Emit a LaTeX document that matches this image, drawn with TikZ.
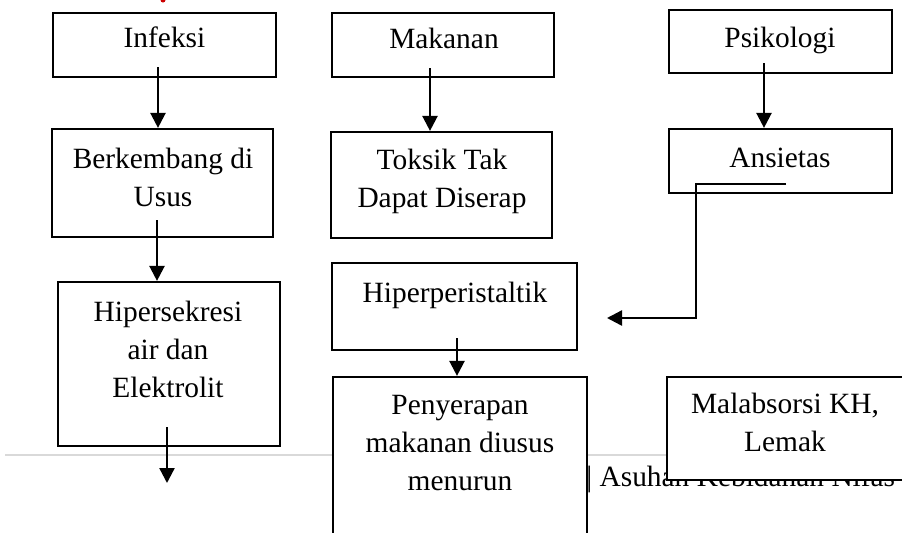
\documentclass[tikz,border=0pt]{standalone}
\usepackage{fontspec}
\setmainfont{Liberation Serif}
\usetikzlibrary{arrows.meta,calc}
\begin{document}
\begin{tikzpicture}[x=0.5pt,y=-0.5pt,
  box/.style={draw, fill=white, line width=1.1pt, inner sep=0pt},
  lbl/.style={font=\fontsize{14.7pt}{19pt}\selectfont, align=center, anchor=base, inner sep=0pt},
  arr/.style={line width=1.2pt, -{Triangle[length=7.5pt,width=7.5pt]}}]
\useasboundingbox (0,0) rectangle (902,532);
\clip (0,0) rectangle (902,532);
\fill[white] (0,0) rectangle (902,532);
% red fragment of cut-off heading
\fill[red!80!black] (163,0) circle (2.5);
% footer rule and text
\draw[gray!30, line width=0.8pt] (5,455) -- (900,455);
\node[lbl, anchor=base west] (footer) at (586,486) {| Asuhan Kebidanan Nifas};
% boxes
\node[box, minimum width=111.5pt, minimum height=32pt] (inf) at (164.5,45) {};
\node[box, minimum width=111pt, minimum height=32pt] (mak) at (443,45) {};
\node[box, minimum width=111.5pt, minimum height=31.5pt] (psi) at (780.5,41.5) {};
\node[box, minimum width=110.5pt, minimum height=54pt] (ber) at (162.5,183) {};
\node[box, minimum width=110.5pt, minimum height=53pt] (tok) at (441.5,185) {};
\node[box, minimum width=111.5pt, minimum height=32pt] (ans) at (780.5,161) {};
\node[box, minimum width=111pt, minimum height=82pt] (hsk) at (169,364) {};
\node[box, minimum width=122.5pt, minimum height=43.5pt] (hpp) at (454.5,306.5) {};
\node[box, minimum width=127pt, minimum height=84pt] (pen) at (460,461) {};
\node[box, minimum width=122.5pt, minimum height=51.5pt] (mal) at (789.5,428.5) {};
% labels (base anchor = baseline of last line)
\node[lbl] (tinf) at (164.5,47) {Infeksi};
\node[lbl] (tmak) at (444,48) {Makanan};
\node[lbl] (tpsi) at (780,47) {Psikologi};
\node[lbl] (tber) at (163,206) {Berkembang di\\Usus};
\node[lbl] (ttok) at (442,207) {Toksik Tak\\Dapat Diserap};
\node[lbl] (tans) at (780,167) {Ansietas};
\node[lbl] (thsk) at (168,397) {Hipersekresi\\air dan\\Elektrolit};
\node[lbl] (thpp) at (455,302) {Hiperperistaltik};
\node[lbl] (tpen) at (460,490) {Penyerapan\\makanan diusus\\menurun};
\node[lbl] (tmal) at (785,451) {Malabsorsi KH,\\Lemak};
% connectors
\draw[arr] ($(inf.south)+(-6.5,-11)$) -- ($(ber.north)+(-4.5,0)$);
\draw[arr] ($(mak.south)+(-13,-10)$) -- ($(tok.north)+(-11.5,0)$);
\draw[arr] ($(psi.south)+(-16.5,-11)$) -- ($(ans.north)+(-16.5,0)$);
\draw[arr] ($(ber.south)+(-5.5,-18)$) -- ($(hsk.north)+(-12,0)$);
\coordinate (hskend) at (167,483);
\draw[arr] ($(hsk.south)+(-2,-20)$) -- (hskend);
\coordinate (ansend) at (607,318);
\coordinate (ansbend) at (696,318);
\draw[arr] ($(ans.south)+(5.5,-10)$) -| (ansbend) -- (ansend);
\draw[arr] ($(hpp.south)+(2.5,-13)$) -- ($(pen.north)+(-3,0)$);
\end{tikzpicture}
\end{document}
